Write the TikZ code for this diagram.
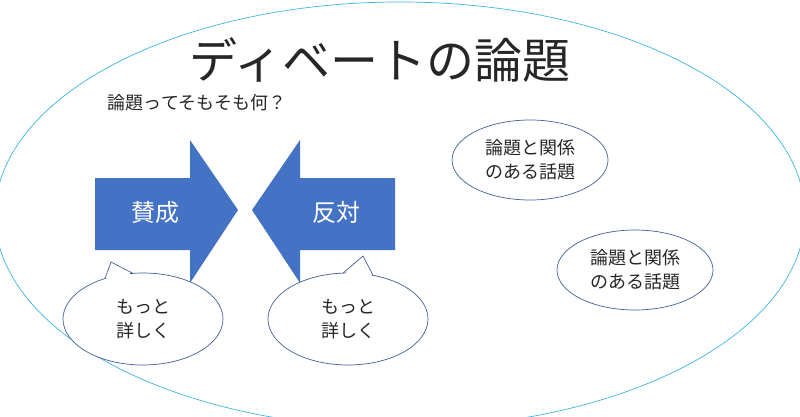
\documentclass[tikz,border=0pt]{standalone}
\usepackage{fontspec}
\usetikzlibrary{shapes.geometric}
\setmainfont{Noto Sans CJK JP}
\definecolor{arrowblue}{HTML}{4472C4}
\definecolor{edgeblue}{HTML}{41609A}
\definecolor{ringblue}{HTML}{3DB5E2}
\begin{document}
\begin{tikzpicture}[x=1pt,y=-1pt,
    every node/.style={align=center,text=black!85},
    bubble/.style={ellipse,draw=edgeblue,fill=white,line width=0.7pt,minimum width=160pt,minimum height=92pt,font=\fontsize{18}{24}\selectfont},
    topic/.style={ellipse,draw=edgeblue,fill=white,line width=0.7pt,minimum width=156pt,minimum height=80pt,font=\fontsize{18}{24}\selectfont},
    label/.style={text=white,font=\fontsize{24}{28}\selectfont}]
  \useasboundingbox (0,0) rectangle (800,417);
  \draw[ringblue,line width=0.7pt] (400,215) ellipse [x radius=405, y radius=213];

  \node (title) at (380,60) {\fontsize{48}{54}\selectfont ディベートの論題};
  \node (question) at (197,103) {\fontsize{18}{22}\selectfont 論題ってそもそも何？};

  % arrows
  \fill[arrowblue] (95,178) -- (190,178) -- (190,140) -- (238,210) -- (190,283) -- (190,250) -- (95,250) -- cycle;
  \fill[arrowblue] (395,178) -- (300,178) -- (300,140) -- (252,210) -- (300,283) -- (300,250) -- (395,250) -- cycle;
  \node[label] (pro) at (155,212) {賛成};
  \node[label] (con) at (336,212) {反対};

  % callouts
  \node[bubble] (more1) at (143,319) {もっと\\詳しく};
  \fill[white] (106,280) -- (111,262) -- (132,275) -- cycle;
  \draw[edgeblue,line width=0.7pt] (105,278.5) -- (111,262) -- (133,273.4);
  \node[bubble] (more2) at (348,319) {もっと\\詳しく};
  \fill[white] (344,275) -- (363,256) -- (372,277) -- cycle;
  \draw[edgeblue,line width=0.7pt] (343,273.1) -- (363,256) -- (373,275.3);

  \node[topic] (topic1) at (530,160) {論題と関係\\のある話題};
  \node[topic] (topic2) at (635,270) {論題と関係\\のある話題};
\end{tikzpicture}
\end{document}
